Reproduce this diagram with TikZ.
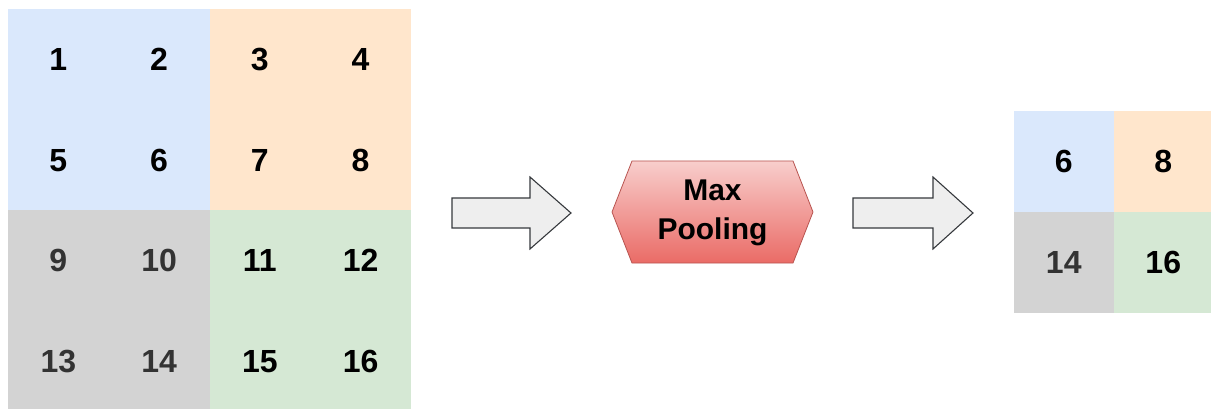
\documentclass[tikz,border=0pt]{standalone}
\usepackage{fontspec}
\setmainfont{Liberation Sans}
\definecolor{cblue}{HTML}{DAE8FC}
\definecolor{corange}{HTML}{FFE6CC}
\definecolor{cgray}{HTML}{D3D3D3}
\definecolor{cgreen}{HTML}{D5E8D4}
\definecolor{gtext}{HTML}{333333}
\definecolor{arrfill}{HTML}{EEEEEE}
\definecolor{arrdraw}{HTML}{36393D}
\definecolor{hextop}{HTML}{F8CECC}
\definecolor{hexbot}{HTML}{EA6B66}
\definecolor{hexdraw}{HTML}{B85450}
\tikzset{
  cell/.style={minimum width=100.75pt, minimum height=100.5pt, inner sep=0pt, outer sep=0pt,
    font=\fontsize{32}{36}\selectfont\bfseries, text=black},
  ocell/.style={cell, minimum width=99.5pt, minimum height=101pt},
  blockarrow/.style={fill=arrfill, draw=arrdraw, line width=1.1pt, line join=miter},
  hexa/.style={top color=hextop, bottom color=hexbot, draw=hexdraw, line width=0.8pt},
}
\begin{document}
\begin{tikzpicture}[x=1pt,y=1pt]
\useasboundingbox (0,0) rectangle (1211,-409);
% input grid
\foreach \r/\c/\n/\col/\tc in {
  0/0/1/cblue/black, 0/1/2/cblue/black, 0/2/3/corange/black, 0/3/4/corange/black,
  1/0/5/cblue/black, 1/1/6/cblue/black, 1/2/7/corange/black, 1/3/8/corange/black,
  2/0/9/cgray/gtext, 2/1/10/cgray/gtext, 2/2/11/cgreen/black, 2/3/12/cgreen/black,
  3/0/13/cgray/gtext, 3/1/14/cgray/gtext, 3/2/15/cgreen/black, 3/3/16/cgreen/black}
{
  \node[cell, fill=\col, text=\tc] (in\n) at ({8+50.375+100.75*\c}, {-(9.5+50.25+100.5*\r)}) {\raisebox{-1.5pt}{\n}};
}
% arrow 1
\draw[blockarrow] (452,-198) -- (530,-198) -- (530,-177) -- (571,-213) -- (530,-249) -- (530,-228) -- (452,-228) -- cycle;
% hexagon
\shade[hexa] (612,-212) -- (632,-161) -- (793,-161) -- (813,-212) -- (793,-263) -- (632,-263) -- cycle;
\node[font=\fontsize{30}{39}\selectfont\bfseries, align=center] (mp) at (712.5,-213) {Max\\Pooling};
% arrow 2
\draw[blockarrow] (853,-198) -- (933,-198) -- (933,-177) -- (973,-213) -- (933,-249) -- (933,-228) -- (853,-228) -- cycle;
% output grid
\foreach \r/\c/\n/\col/\tc in {0/0/6/cblue/black, 0/1/8/corange/black, 1/0/14/cgray/gtext, 1/1/16/cgreen/black}
{
  \node[ocell, fill=\col, text=\tc] (out\n) at ({1014+49.75+99.5*\c}, {-(111+50.5+101*\r)}) {\raisebox{-1.5pt}{\n}};
}
\end{tikzpicture}
\end{document}
